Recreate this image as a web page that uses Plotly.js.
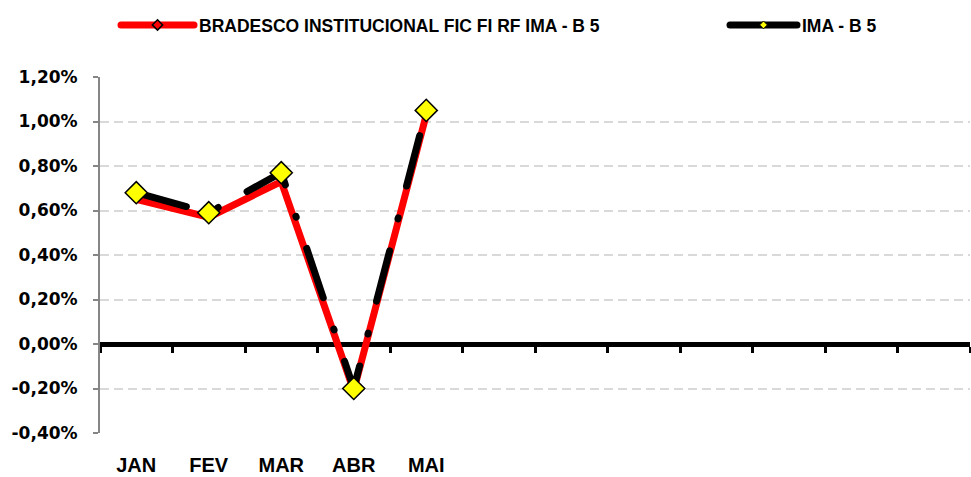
<!DOCTYPE html>
<html><head><meta charset="utf-8">
<script src="https://cdn.plot.ly/plotly-3.0.1.min.js"></script>
<style>html,body{margin:0;padding:0;background:#fff}#chart{width:971px;height:477px}</style>
</head><body><div id="chart"></div>
<script>
const months = ['JAN','FEV','MAR','ABR','MAI'];
const monthIndex = [0,1,2,3,4];
const slotCount = 12;
const bradesco = [0.65, 0.57, 0.73, -0.21, 1.03];
const imab5 = [0.68, 0.59, 0.77, -0.20, 1.05];
const yTickVals = [-0.4,-0.2,0,0.2,0.4,0.6,0.8,1.0,1.2];
const yTickText = ['-0,40%','-0,20%','0,00%','0,20%','0,40%','0,60%','0,80%','1,00%','1,20%'];
const seriesNames = ['BRADESCO INSTITUCIONAL FIC FI RF IMA - B 5','IMA - B 5'];

const legendFont = {family:'Liberation Sans, Arial, sans-serif', size:17.5, color:'#000', weight:'bold'};

const traces = [
  {x: monthIndex, y: bradesco, xaxis:'x', yaxis:'y', mode:'lines', name: seriesNames[0],
   line:{color:'#ff0000', width:7}, showlegend:false, hoverinfo:'skip'},
  {x: monthIndex, y: imab5, xaxis:'x2', yaxis:'y', mode:'lines+markers', name: seriesNames[1],
   line:{color:'#000000', width:7, dash:'52px,33px,1px,33px'},
   marker:{symbol:'diamond', size:17, color:'#ffff00', line:{color:'#000000', width:1.5}},
   showlegend:false, hoverinfo:'skip'},
  {x:[null], y:[null], mode:'lines+markers', name: seriesNames[0], legend:'legend',
   line:{color:'#ff0000', width:7}, marker:{symbol:'diamond', size:8, color:'#ff0000', line:{color:'#000', width:1.5}}},
  {x:[null], y:[null], mode:'lines+markers', name: seriesNames[1], legend:'legend2',
   line:{color:'#000000', width:7}, marker:{symbol:'diamond', size:6, color:'#ffff00', line:{color:'#000', width:1}}}
];

const layout = {
  width:971, height:477,
  margin:{l:100, r:1, t:77, b:44},
  paper_bgcolor:'#ffffff', plot_bgcolor:'#ffffff',
  showlegend:true,
  legend:{orientation:'h', x:0.0184, xanchor:'left', y:1.146, yanchor:'middle',
    itemwidth:73, font:legendFont},
  legend2:{orientation:'h', x:0.7184, xanchor:'left', y:1.146, yanchor:'middle',
    itemwidth:67, font:legendFont},
  xaxis:{range:[-0.5, slotCount-0.5], domain:[0,1], showgrid:false, zeroline:false, showline:false,
    tickmode:'array', tickvals: monthIndex, ticktext: months, ticks:'', ticklabelstandoff:18,
    tickfont:{family:'Liberation Sans, Arial, sans-serif', size:20, color:'#000', weight:'bold'}},
  xaxis2:{overlaying:'x', anchor:'free', position:0.25, side:'bottom', range:[-0.5, slotCount-0.5],
    showgrid:false, zeroline:false, showline:true, linecolor:'#000', linewidth:5,
    ticks:'outside', ticklen:6, tickwidth:3, tickcolor:'#000', tickmode:'linear', tick0:-0.5, dtick:1,
    showticklabels:false, layer:'below traces'},
  yaxis:{range:[-0.4,1.2], showline:true, linecolor:'#868686', linewidth:2, mirror:false,
    ticks:'outside', ticklen:5, tickwidth:2, tickcolor:'#868686',
    tickmode:'array', tickvals:yTickVals, ticktext:yTickText, ticklabelstandoff:12,
    showgrid:true, gridcolor:'#d9d9d9', gridwidth:2, griddash:'9px,5px', zeroline:false,
    tickfont:{family:'DejaVu Sans, sans-serif', size:17, color:'#000', weight:'bold'}}
};

Plotly.newPlot('chart', traces, layout, {staticPlot:true, displayModeBar:false}).then(function(){
  document.querySelectorAll('#chart .scatterlayer .js-line, #chart .legendlines path').forEach(function(p){
    p.style.strokeLinecap = 'round';
  });
});
</script>
</body></html>
